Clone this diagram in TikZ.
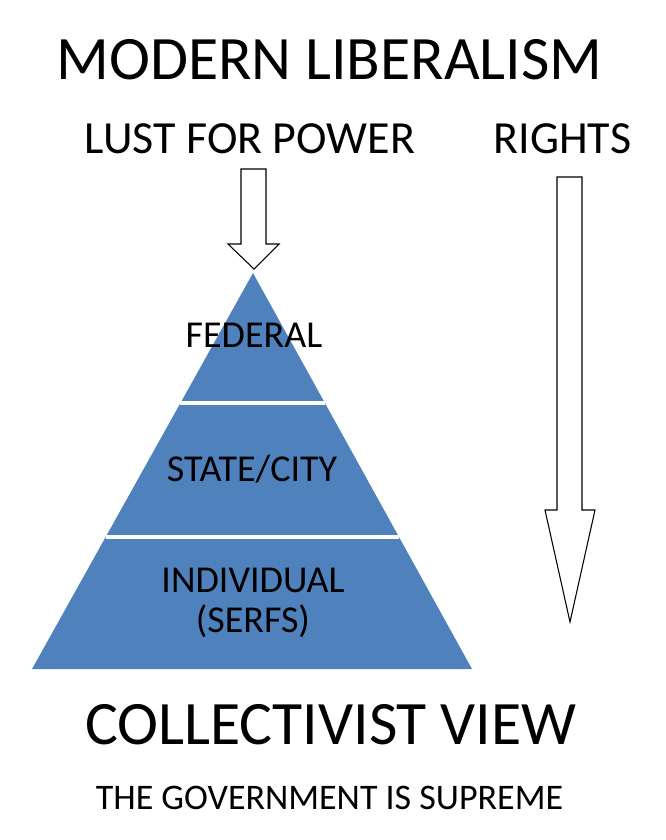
\documentclass[tikz,border=0pt]{standalone}
\usepackage{fontspec}
\setmainfont{Carlito}
\usetikzlibrary{calc}
\definecolor{pyrblue}{HTML}{4F81BD}
\begin{document}
\begin{tikzpicture}[
x=0.75pt,y=-0.75pt,
blockarrow/.style={draw=black,fill=white,line width=0.8pt,line join=miter},
divider/.style={draw=white,line width=2.4pt},
bigtitle/.style={anchor=base,inner sep=0pt,font=\fontsize{46.3}{50}\selectfont},
subtitle/.style={anchor=base,inner sep=0pt,font=\fontsize{34.5}{40}\selectfont},
level/.style={anchor=base,inner sep=0pt,align=center,font=\fontsize{28.5}{29.3}\selectfont},
footline/.style={anchor=base,inner sep=0pt,font=\fontsize{27}{30}\selectfont}
]
\useasboundingbox (0,0) rectangle (666,840);

\node[bigtitle] (title) at (329.5,79) {MODERN LIBERALISM};
\node[subtitle] (power) at (250,153) {LUST FOR POWER};
\node[subtitle] (rights) at (562.5,153) {RIGHTS};

% pyramid
\coordinate (apex) at (253,273);
\coordinate (bl) at (32,669);
\coordinate (br) at (472,669);
\fill[pyrblue] (apex) -- (bl) -- (br) -- cycle;
\path[divider] ($(apex)!0.3283!(bl)$) -- ($(apex)!0.3283!(br)$);
\path[divider] ($(apex)!0.6667!(bl)$) -- ($(apex)!0.6667!(br)$);

\node[level] (federal) at (254,347) {FEDERAL};
\node[level] (state) at (252,481) {STATE/CITY};
\node[level] (indiv) at (253,632) {INDIVIDUAL\\(SERFS)};

% block arrows
\path[blockarrow] (241,169) -- (266,169) -- (266,244) -- (279,244)
  -- (254,269) -- (228,244) -- (241,244) -- cycle;
\path[blockarrow] (557,177) -- (582,177) -- (582,510) -- (595,510)
  -- (570,622) -- (545,510) -- (557,510) -- cycle;

\node[bigtitle] (view) at (331,744) {COLLECTIVIST VIEW};
\node[footline] (supreme) at (329.5,809) {THE GOVERNMENT IS SUPREME};
\end{tikzpicture}
\end{document}
